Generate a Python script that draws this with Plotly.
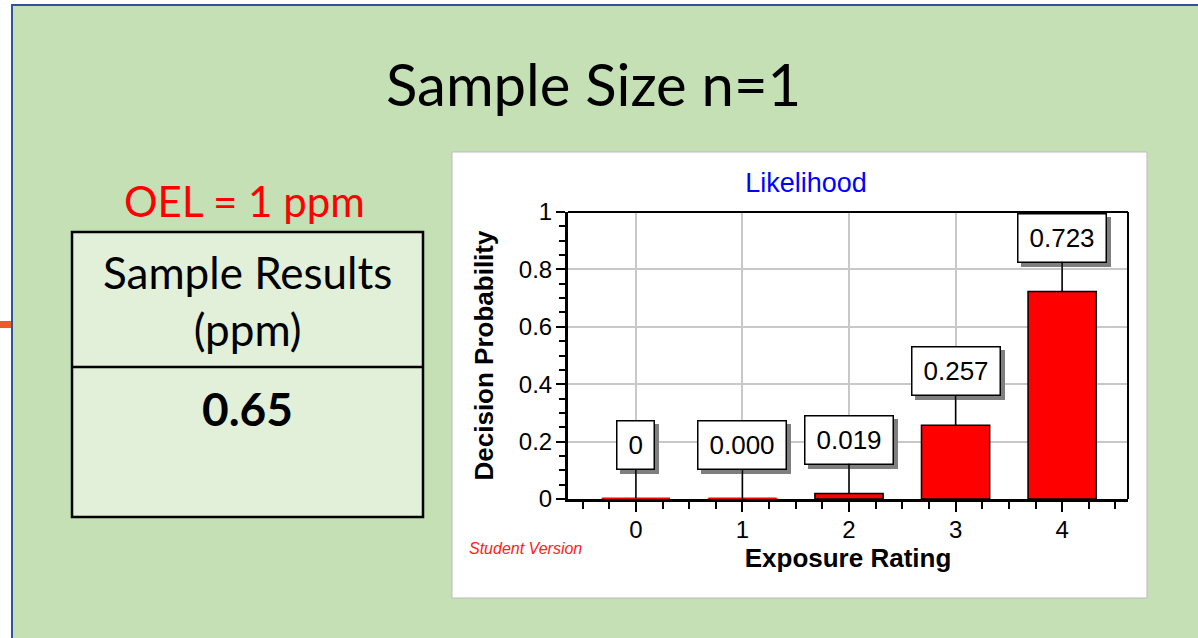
import plotly.graph_objects as go

# ---- data ----
ratings = [0, 1, 2, 3, 4]
probabilities = [0.0, 0.0002, 0.019, 0.257, 0.723]
tick_vals_y = [0, 0.2, 0.4, 0.6, 0.8, 1]
slide_title = "Sample Size n=1"
oel_text = "OEL = 1 ppm"
table_header = "Sample Results<br>(ppm)"
sample_result = "0.65"

W, H = 1198, 638
BAR_WIDTH = 0.64
BOX_FONT = 26


def px(x):
    return x / W


def py(y):
    return 1 - y / H


def label_for(v):
    return "0" if v == 0 else f"{v:.3f}"


def text_width(s, size):
    # Arial/Liberation Sans advance widths for digits and the point
    return sum(0.278 if c == "." else 0.556 for c in s) * size


labels = [label_for(v) for v in probabilities]
line_colors = ["#FF0000" if v < 0.005 else "black" for v in probabilities]

fig = go.Figure()
fig.add_trace(go.Bar(
    x=ratings, y=probabilities, width=BAR_WIDTH,
    marker=dict(color="#FF0000", line=dict(color=line_colors, width=1.5)),
    hoverinfo="skip", showlegend=False,
))

# near-zero bars are shown as a flat red stroke at their value
flat_x, flat_y = [], []
for xi, v in zip(ratings, probabilities):
    if v < 0.005:
        flat_x += [xi - BAR_WIDTH / 2, xi + BAR_WIDTH / 2, None]
        flat_y += [v, v, None]
fig.add_trace(go.Scatter(
    x=flat_x, y=flat_y, mode="lines", line=dict(color="#FF0000", width=3),
    hoverinfo="skip", showlegend=False, cliponaxis=False,
))

chart_font = "Liberation Sans, Arial, sans-serif"
slide_font = "Lato, Open Sans, sans-serif"

shapes = [
    # slide background
    dict(type="rect", xref="paper", yref="paper", x0=px(12), x1=px(1200), y0=py(640), y1=py(5),
         fillcolor="#C5E0B4", line=dict(color="#2F5597", width=2), layer="below"),
    # small orange marker at left edge
    dict(type="rect", xref="paper", yref="paper", x0=px(0), x1=px(11), y0=py(328), y1=py(321),
         fillcolor="#F05A28", line=dict(width=0), layer="below"),
    # table
    dict(type="rect", xref="paper", yref="paper", x0=px(72), x1=px(423), y0=py(517), y1=py(232),
         fillcolor="#E2EFD9", line=dict(color="black", width=2.5), layer="below"),
    dict(type="line", xref="paper", yref="paper", x0=px(72), x1=px(423), y0=py(367), y1=py(367),
         line=dict(color="black", width=2.5), layer="below"),
    # white chart panel
    dict(type="rect", xref="paper", yref="paper", x0=px(452), x1=px(1147), y0=py(598), y1=py(152),
         fillcolor="white", line=dict(color="#BBBBBB", width=1), layer="below"),
    # plot frame (top and right edges)
    dict(type="line", xref="x domain", yref="y domain", x0=0, x1=1, y0=1, y1=1,
         line=dict(color="black", width=2), layer="above"),
    dict(type="line", xref="x domain", yref="y domain", x0=1, x1=1, y0=0, y1=1,
         line=dict(color="black", width=2), layer="above"),
]

annotations = [
    dict(text=oel_text, x=px(245), y=py(201), xref="paper", yref="paper", showarrow=False,
         font=dict(family=slide_font, size=42, color="#FF0000"), xanchor="center", yanchor="middle"),
    dict(text=table_header, x=px(247), y=py(300), xref="paper", yref="paper", showarrow=False,
         font=dict(family=slide_font, size=44, color="black"), xanchor="center", yanchor="middle"),
    dict(text="<b>" + sample_result + "</b>", x=px(247), y=py(408), xref="paper", yref="paper",
         showarrow=False, font=dict(family=slide_font, size=46, color="black"),
         xanchor="center", yanchor="middle"),
    dict(text=slide_title, x=px(593), y=py(83), xref="paper", yref="paper", showarrow=False,
         font=dict(family=slide_font, size=58, color="black"), xanchor="center", yanchor="middle"),
    dict(text="Student Version", x=px(467), y=py(548), xref="paper", yref="paper", showarrow=False,
         font=dict(family=chart_font, size=16, color="#FF2020", style="italic"),
         xanchor="left", yanchor="middle"),
]

# value boxes: a plain grey box offset as a drop shadow, then the labelled box
for xi, v, lab in zip(ratings, probabilities, labels):
    bw = text_width(lab, BOX_FONT) + 6
    annotations.append(dict(
        x=xi, y=v, xref="x", yref="y", text="\u00a0", width=bw, height=31,
        showarrow=True, arrowhead=0,
        arrowcolor="rgba(0,0,0,0)", arrowwidth=0.1, ax=0, ay=-54, xshift=4, yshift=-4,
        bgcolor="#7F7F7F", bordercolor="#7F7F7F", borderwidth=1.5, borderpad=8,
        font=dict(family=chart_font, size=BOX_FONT, color="#7F7F7F")))
for xi, v, lab in zip(ratings, probabilities, labels):
    bw = text_width(lab, BOX_FONT) + 6
    annotations.append(dict(
        x=xi, y=v, xref="x", yref="y", text=lab, width=bw, height=31,
        showarrow=True, arrowhead=0,
        arrowcolor="black", arrowwidth=1.5, ax=0, ay=-54,
        bgcolor="white", bordercolor="black", borderwidth=1.5, borderpad=8,
        font=dict(family=chart_font, size=BOX_FONT, color="black")))

fig.update_layout(
    width=W, height=H, margin=dict(l=0, r=0, t=0, b=0, pad=0, autoexpand=False),
    autosize=False,
    paper_bgcolor="white", plot_bgcolor="white",
    shapes=shapes, annotations=annotations,
    title=dict(text="Likelihood", x=px(806), y=py(183), xref="paper", yref="paper",
               xanchor="center", yanchor="middle", automargin=False,
               font=dict(family=chart_font, size=27, color="#0000FF")),
    font=dict(family=chart_font, color="black"),
    showlegend=False,
)

fig.update_xaxes(
    domain=[px(568), px(1128)], range=[-0.637, 4.618], automargin=False,
    tickmode="array", tickvals=ratings, ticktext=[str(r) for r in ratings],
    ticks="outside", ticklen=10, tickwidth=1.5, tickcolor="black",
    minor=dict(dtick=0.25, tick0=0, ticks="outside", ticklen=7, tickwidth=1.5, tickcolor="black",
               showgrid=False),
    showgrid=True, gridcolor="#C8C8C8", gridwidth=2,
    showline=True, linecolor="black", linewidth=3,
    tickfont=dict(family=chart_font, size=24, color="black"), ticklabelstandoff=-3,
    title=dict(text="<b>Exposure Rating</b>", font=dict(family=chart_font, size=26, color="black"),
               standoff=8),
    zeroline=False, fixedrange=True, layer="below traces",
)
fig.update_yaxes(
    domain=[py(499), py(212)], range=[0, 1], automargin=False,
    tickmode="array", tickvals=tick_vals_y,
    ticks="outside", ticklen=9, tickwidth=1.5, tickcolor="black",
    minor=dict(dtick=0.05, tick0=0, ticks="outside", ticklen=6, tickwidth=1.5, tickcolor="black",
               showgrid=False),
    showgrid=True, gridcolor="#C8C8C8", gridwidth=2,
    showline=True, linecolor="black", linewidth=3,
    tickfont=dict(family=chart_font, size=24, color="black"), ticklabelstandoff=-1,
    title=dict(text="<b>Decision Probability</b>", font=dict(family=chart_font, size=26, color="black"),
               standoff=18),
    zeroline=False, fixedrange=True,
)

fig.write_html("out.html", config={"displayModeBar": False})
